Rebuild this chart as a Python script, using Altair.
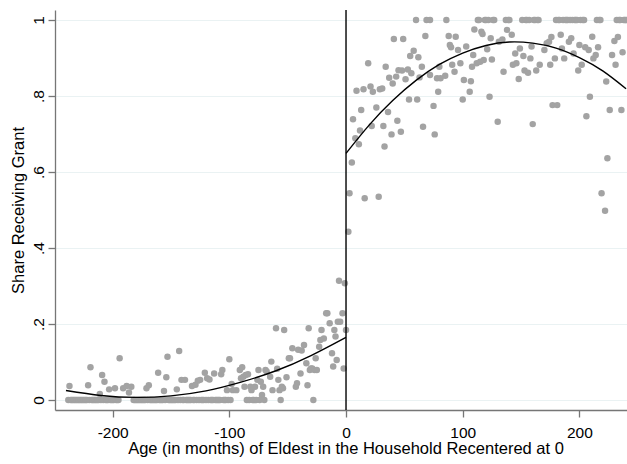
import altair as alt
import pandas as pd

# Months below the cutoff with a non-zero share receiving the grant
left_x = [-237, -221, -219, -211, -209, -207, -203, -198, -194, -191, -188, -186, -184,
          -171, -169, -161, -156, -154, -153, -145, -143, -141, -138, -132, -129, -127,
          -125, -121, -119, -117, -113, -107, -106, -102, -100, -98, -97, -94, -91, -90,
          -89, -88, -87, -86, -84, -82, -81, -78, -76, -75, -73, -72, -71, -69, -68,
          -65, -64, -63, -60, -59, -58, -57, -55, -54, -53, -51, -49, -48, -46, -43,
          -42, -41, -39, -38, -36, -34, -33, -32, -31, -30, -29, -27, -26, -25, -23,
          -22, -21, -19, -17, -16, -14, -12, -11, -10, -9, -8, -7, -6, -5, -3, -2, -1, 0]
left_y = [0.037, 0.039, 0.086, 0.016, 0.066, 0.048, 0.028, 0.031, 0.110, 0.031, 0.037, 0.020, 0.035,
          0.031, 0.039, 0.072, 0.024, 0.060, 0.114, 0.028, 0.129, 0.053, 0.053, 0.037, 0.040, 0.051,
          0.053, 0.072, 0.057, 0.054, 0.070, 0.068, 0.079, 0.026, 0.107, 0.042, 0.026, 0.026, 0.079, 0.057,
          0.086, 0.061, 0.035, 0.066, 0.068, 0.035, 0.026, 0.035, 0.053, 0.079, 0.048, 0.013, 0.035, 0.079, 0.075,
          0.061, 0.101, 0.026, 0.189, 0.082, 0.053, 0.026, 0.035, 0.031, 0.184, 0.060, 0.110, 0.110, 0.136, 0.035,
          0.044, 0.132, 0.070, 0.130, 0.145, 0.097, 0.039, 0.189, 0.079, 0.083, 0.083, 0.079, 0.110, 0.079, 0.140,
          0.158, 0.184, 0.162, 0.228, 0.228, 0.202, 0.123, 0.088, 0.184, 0.167, 0.105, 0.206, 0.314, 0.206, 0.228,
          0.083, 0.307, 0.184]
# Runs of months below the cutoff where nobody receives the grant
left_zero_spans = [(-238, -194), (-182, -98), (-86, -69), (-58, -56), (-28, -28)]

# Months above the cutoff with a share below one
right_x = [2, 3, 5, 6, 8, 9, 11, 12, 13, 15, 16, 19, 21, 22, 23, 26, 28, 29, 31, 32, 33, 34,
           36, 37, 39, 40, 41, 43, 44, 45, 47, 48, 49, 51, 53, 54, 55, 56, 58, 61, 62, 63,
           65, 66, 68, 72, 75, 76, 78, 79, 80, 81, 85, 88, 89, 90, 91, 93, 94, 96, 98, 100,
           101, 103, 106, 107, 108, 109, 110, 112, 115, 116, 117, 118, 121, 123, 124, 125,
           130, 131, 134, 135, 138, 142, 143, 145, 146, 148, 149, 152, 153, 156, 158, 159,
           160, 163, 166, 170, 172, 174, 175, 176, 177, 179, 181, 184, 185, 187, 191, 193,
           195, 199, 200, 202, 205, 206, 208, 209, 211, 212, 214, 216, 219, 222, 223, 224,
           226, 228, 230, 231, 233, 236, 237]
right_y = [0.443, 0.544, 0.625, 0.739, 0.689, 0.814, 0.673, 0.709, 0.763, 0.818, 0.531, 0.886, 0.825,
           0.721, 0.811, 0.770, 0.535, 0.818, 0.820, 0.721, 0.667, 0.877,
           0.758, 0.848, 0.699, 0.833, 0.950, 0.851, 0.735, 0.868, 0.706, 0.867, 0.950, 0.844, 0.870,
           0.791, 0.905, 0.860, 0.919, 0.791, 0.902, 0.849,
           0.877, 0.719, 0.958, 0.855, 0.774, 0.699, 0.847, 0.811, 0.877, 0.847, 0.853, 0.958, 0.934,
           0.928, 0.882, 0.864, 0.956, 0.921, 0.886, 0.791,
           0.842, 0.930, 0.811, 0.839, 0.877, 0.908, 0.975, 0.886, 0.890, 0.969, 0.963, 0.895, 0.923,
           0.798, 0.952, 0.896,
           0.732, 0.943, 0.949, 0.864, 0.974, 0.961, 0.882, 0.912, 0.886, 0.845, 0.925, 0.905, 0.867,
           0.861, 0.899, 0.930,
           0.726, 0.867, 0.882, 0.921, 0.939, 0.943, 0.882, 0.955, 0.776, 0.899, 0.776, 0.961, 0.925,
           0.899, 0.943, 0.952,
           0.912, 0.867, 0.934, 0.882, 0.928, 0.747, 0.921, 0.798, 0.956, 0.899, 0.908, 0.928, 0.544,
           0.498, 0.838, 0.636,
           0.763, 0.908, 0.945, 0.882, 0.955, 0.763, 0.915]
# Months above the cutoff where everyone receives the grant
right_one_x = [60, 69, 72, 86, 113, 114, 119, 120, 122, 126, 127, 137, 139, 140, 151, 154, 155,
               157, 161, 162, 164, 165, 180, 182, 183, 186, 188, 189, 190, 192, 194, 196, 197,
               198, 201, 203, 204, 215, 217, 218, 232, 234, 235, 238, 239, 240]

# Quadratic fits on each side of the cutoff, sampled along the age axis
fit_below_x = [-240, -210, -180, -150, -120, -90, -60, -30, 0]
fit_below_y = [0.025, 0.012, 0.007, 0.011, 0.024, 0.047, 0.077, 0.117, 0.165]
fit_above_x = [0, 20, 40, 60, 80, 100, 120, 140, 160, 180, 200, 220, 240]
fit_above_y = [0.649, 0.724, 0.788, 0.841, 0.883, 0.913, 0.933, 0.942, 0.939, 0.926, 0.901, 0.866, 0.819]

left_taken = set(left_x)
left_zero_x = [m for a, b in left_zero_spans for m in range(a, b + 1) if m not in left_taken]

rows = [{"age": x, "share": y} for x, y in zip(left_x, left_y)]
rows += [{"age": x, "share": 0.0} for x in left_zero_x]
rows += [{"age": x, "share": y} for x, y in zip(right_x, right_y)]
rows += [{"age": x, "share": 1.0} for x in right_one_x]
df = pd.DataFrame(rows)

fits = pd.concat([
    pd.DataFrame({"age": fit_below_x, "share": fit_below_y, "side": "below"}),
    pd.DataFrame({"age": fit_above_x, "share": fit_above_y, "side": "above"}),
])

FONT = "Liberation Sans"
AXIS_GRAY = "#767676"

x_scale = alt.Scale(domain=[-249.4, 240.8], nice=False, zero=False)
y_scale = alt.Scale(domain=[-0.0263, 1.0263], nice=False, zero=False)

x_axis = alt.Axis(
    values=[-200, -100, 0, 100, 200],
    labelExpr="'' + datum.value",
    title="Age (in months) of Eldest in the Household Recentered at 0",
    grid=False,
    labelFontSize=15.5,
    labelBaseline="alphabetic",
    labelPadding=20,
    titleFontSize=16.5,
    titleBaseline="alphabetic",
    titleAlign="center",
    titleX=290.5,
    titleY=43.3,
)
y_axis = alt.Axis(
    values=[0, 0.2, 0.4, 0.6, 0.8, 1],
    labelExpr="datum.value == 0 ? '0' : (datum.value == 1 ? '1' : replace(format(datum.value, '.1f'), '0.', '.'))",
    title="Share Receiving Grant",
    grid=True,
    labelAngle=-90,
    labelAlign="center",
    labelBaseline="alphabetic",
    labelPadding=5,
    labelFontSize=15.5,
    titleFontSize=16.5,
    titleAngle=-90,
    titleAlign="center",
    titleBaseline="alphabetic",
    titleX=-31.4,
    titleY=200,
)

points = alt.Chart(df).mark_circle(size=42, color="#a3a3a3", opacity=1).encode(
    x=alt.X("age:Q", scale=x_scale, axis=x_axis),
    y=alt.Y("share:Q", scale=y_scale, axis=y_axis),
)

fit_lines = alt.Chart(fits).mark_line(color="black", strokeWidth=1.4, interpolate="natural").encode(
    x=alt.X("age:Q", scale=x_scale),
    y=alt.Y("share:Q", scale=y_scale),
    detail="side:N",
)

cutoff = alt.Chart(pd.DataFrame({"age": [0]})).mark_rule(color="black", strokeWidth=1.4).encode(
    x=alt.X("age:Q", scale=x_scale)
)

chart = (
    alt.layer(points, fit_lines, cutoff)
    .properties(
        width=572,
        height=400,
        padding={"left": 55, "top": 10, "right": 0, "bottom": 54},
        autosize=alt.AutoSizeParams(type="none"),
        background="white",
    )
    .configure_view(stroke=None)
    .configure_axis(
        domainColor=AXIS_GRAY,
        domainWidth=1.3,
        tickColor=AXIS_GRAY,
        tickWidth=1.3,
        tickSize=7,
        gridColor="#eaf2f3",
        gridWidth=1,
        labelColor="black",
        titleColor="black",
        labelFont=FONT,
        titleFont=FONT,
        titleFontWeight="normal",
    )
)

chart.save("out.html", embed_options={"renderer": "svg", "actions": False})
